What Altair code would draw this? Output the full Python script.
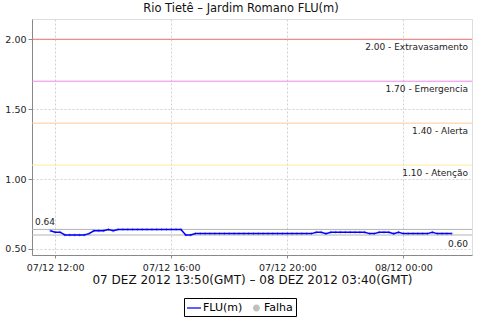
import altair as alt
import pandas as pd
from datetime import datetime, timedelta

# ---- data ----
START = "2012-12-07T11:50:00"
STEP_MIN = 10
flu_values = [
    0.63, 0.62, 0.62, 0.60, 0.60, 0.60, 0.60, 0.60, 0.61, 0.63,
    0.63, 0.63, 0.64, 0.63, 0.64,
    0.64, 0.64, 0.64, 0.64, 0.64, 0.64, 0.64, 0.64, 0.64, 0.64, 0.64, 0.64, 0.64,
    0.60, 0.60,
    0.61, 0.61, 0.61, 0.61, 0.61, 0.61, 0.61, 0.61, 0.61, 0.61,
    0.61, 0.61, 0.61, 0.61, 0.61, 0.61, 0.61, 0.61, 0.61, 0.61,
    0.61, 0.61, 0.61, 0.61, 0.61,
    0.62, 0.62, 0.61,
    0.62, 0.62, 0.62, 0.62, 0.62, 0.62, 0.62, 0.62,
    0.61, 0.61, 0.62, 0.62, 0.62, 0.61, 0.62,
    0.61, 0.61, 0.61, 0.61, 0.61, 0.61,
    0.62, 0.61, 0.61, 0.61, 0.61,
]
threshold_values = [2.00, 1.70, 1.40, 1.10]
threshold_names = ["Extravasamento", "Emergencia", "Alerta", "Atenção"]
threshold_colors = ["#ee7070", "#ee8aee", "#ffc896", "#ffeaa0"]
series_names = ["FLU(m)", "Falha"]
series_colors = ["#0000ff", "#c0c0c0"]
y_ticks = [0.50, 0.75, 1.00, 1.25, 1.50, 1.75, 2.00]
title_text = "Rio Tietê – Jardim Romano FLU(m)"
x_title = "07 DEZ 2012 13:50(GMT) – 08 DEZ 2012 03:40(GMT)"

t0 = datetime.fromisoformat(START)
times = [(t0 + timedelta(minutes=STEP_MIN * i)).strftime("%Y-%m-%dT%H:%M:%S")
         for i in range(len(flu_values))]
df = pd.DataFrame({"t": times, "v": flu_values, "serie": "FLU(m)"})
thr = pd.DataFrame({
    "v": threshold_values,
    "c": threshold_colors,
    "label": [f"{v:.2f} - {n}" for v, n in zip(threshold_values, threshold_names)],
})
vmax, vmin = max(flu_values), min(flu_values)
mm = pd.DataFrame({"v": [vmax, vmin], "label": [f"{vmax:.2f}", f"{vmin:.2f}"]})

FONT = "DejaVu Sans"
W, H = 440, 236

xscale = alt.Scale(domain=[alt.DateTime(year=2012, month=12, date=7, hours=11, minutes=12),
                           alt.DateTime(year=2012, month=12, date=8, hours=2, minutes=22)])
yscale = alt.Scale(domain=[0.457, 2.145], nice=False, zero=False)

xaxis = alt.Axis(
    values=[alt.DateTime(year=2012, month=12, date=7, hours=12),
            alt.DateTime(year=2012, month=12, date=7, hours=16),
            alt.DateTime(year=2012, month=12, date=7, hours=20),
            alt.DateTime(year=2012, month=12, date=8, hours=0)],
    format="%d/%m %H:%M", labelFont=FONT, labelFontSize=9.5, labelColor="#222",
    tickSize=3, labelPadding=4, tickColor="#888", domainColor="#888",
    gridDash=[2, 2], gridColor="#d0d0d0", title=x_title, titleFont=FONT,
    titleFontSize=12, titleFontWeight="normal", titleColor="#111", titlePadding=3,
)
yaxis = alt.Axis(
    values=y_ticks, format=".2f", labelFont=FONT, labelFontSize=9.5, labelColor="#222",
    tickSize=4, labelPadding=2, tickColor="#888", domainColor="#888",
    gridDash=[2, 2], gridColor="#d0d0d0", title=None,
)

base = alt.Chart(df)

thr_rules = alt.Chart(thr).mark_rule(strokeWidth=1).encode(
    y=alt.Y("v:Q", scale=yscale, axis=yaxis),
    stroke=alt.Stroke("c:N", scale=None),
)
thr_text = alt.Chart(thr).mark_text(align="right", baseline="top", dy=4, font=FONT,
                                    fontSize=9, color="#222").encode(
    y=alt.Y("v:Q", scale=yscale), x=alt.value(W - 4), text="label:N")

mm_rules = alt.Chart(mm).mark_rule(color="#b4b4b4", strokeWidth=1).encode(
    y=alt.Y("v:Q", scale=yscale))
max_text = alt.Chart(mm).transform_filter(alt.datum.v == vmax).mark_text(
    align="left", baseline="alphabetic", dy=-4, font=FONT, fontSize=9, color="#222").encode(
    y=alt.Y("v:Q", scale=yscale), x=alt.value(3), text="label:N")
min_text = alt.Chart(mm).transform_filter(alt.datum.v == vmin).mark_text(
    align="right", baseline="top", dy=5, font=FONT, fontSize=9, color="#222").encode(
    y=alt.Y("v:Q", scale=yscale), x=alt.value(W - 4), text="label:N")

marks = base.mark_point(shape="M0,-1V1M-1,0H1", size=9, filled=False,
                        color="#4a4aff", strokeWidth=0.7).encode(
    x=alt.X("t:T", scale=xscale, axis=xaxis),
    y=alt.Y("v:Q", scale=yscale, axis=yaxis),
)
line = base.mark_line(color="#0000ff", strokeWidth=1.5).encode(
    x=alt.X("t:T", scale=xscale, axis=xaxis),
    y=alt.Y("v:Q", scale=yscale, axis=yaxis),
)

leg = alt.Legend(title=None, orient="none", legendX=152, legendY=279,
                 direction="horizontal", strokeColor="black", fillColor="white",
                 padding=3, symbolSize=196, symbolStrokeWidth=0, symbolOpacity=1,
                 labelFont=FONT, labelFontSize=11, labelColor="#000",
                 labelOffset=2, columnPadding=5)
carrier = base.transform_filter("false").mark_point(filled=True).encode(
    x="t:T", y="v:Q",
    color=alt.Color("serie:N", scale=alt.Scale(domain=series_names, range=series_colors), legend=leg),
    shape=alt.Shape("serie:N", scale=alt.Scale(domain=series_names, range=[
        "M-1,-0.09H1V0.09H-1Z",
        "M-0.3,0A0.5,0.5 0 1,0 0.7,0A0.5,0.5 0 1,0 -0.3,0Z"]), legend=leg),
)

chart = alt.layer(
    thr_rules, thr_text, mm_rules, max_text, min_text, marks, line, carrier
).properties(
    width=W, height=H,
    padding={"left": 32, "top": 19, "right": 8, "bottom": 65},
    autosize=alt.AutoSizeParams(type="none"),
    title=alt.TitleParams(title_text, font=FONT, fontSize=11.5, fontWeight="normal",
                          color="#111", anchor="middle", dx=-11, offset=5),
).configure_view(stroke="#a8a8a8").configure(background="white")

chart.save("out.html", embed_options={"renderer": "svg", "actions": False})
